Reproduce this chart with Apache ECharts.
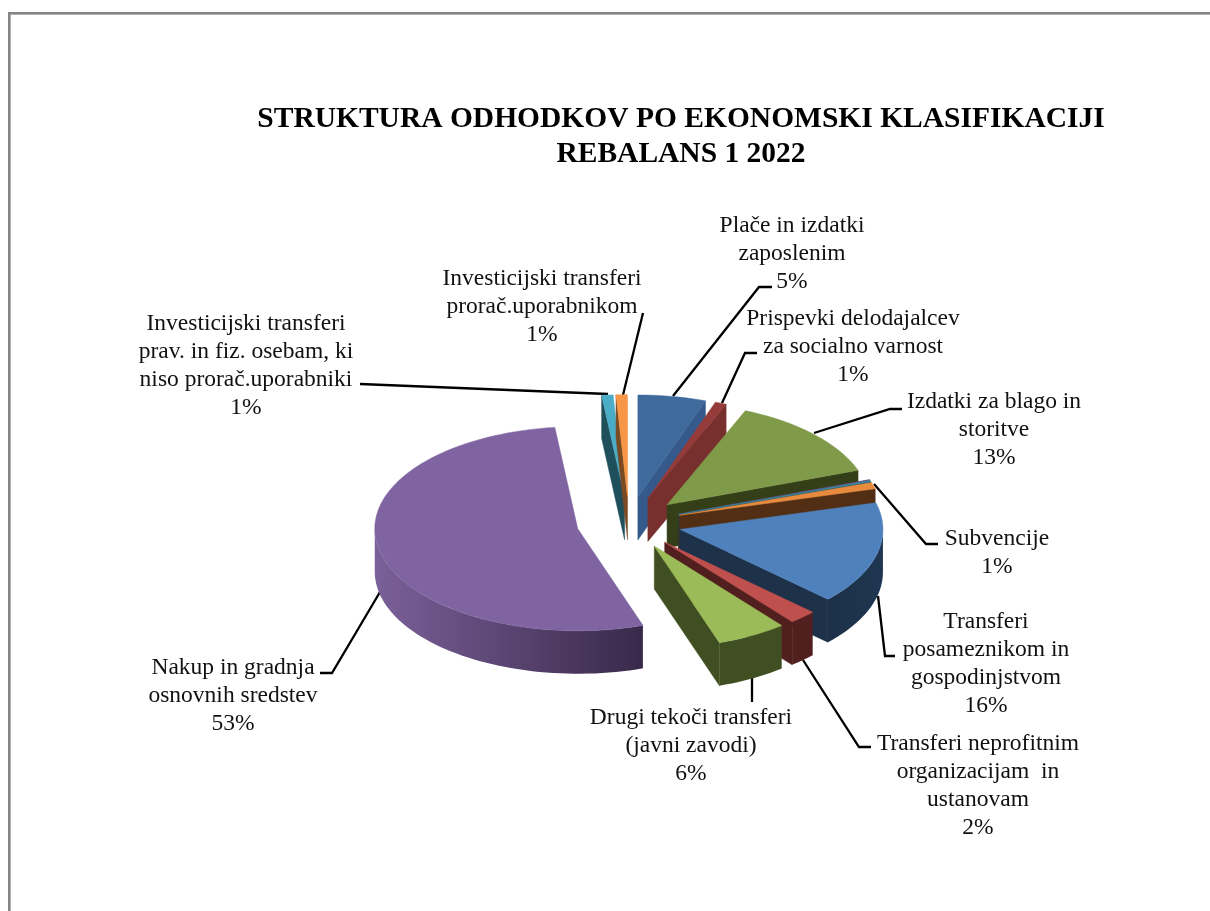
<!DOCTYPE html>
<html>
<head>
<meta charset="utf-8">
<title>Struktura odhodkov</title>
<script src="https://cdn.jsdelivr.net/npm/echarts@6/dist/echarts.min.js"></script>
<style>
  html, body { margin: 0; padding: 0; background: #fff; }
  #chart { width: 1210px; height: 911px; }
</style>
</head>
<body>
<div id="chart"></div>
<script>
// slices clockwise from 12 o'clock; two tiny ones have no label in the original
const categories = [
  "Plače in izdatki\nzaposlenim",
  "Prispevki delodajalcev\nza socialno varnost",
  "Izdatki za blago in\nstoritve",
  "",
  "",
  "Subvencije",
  "Transferi\nposameznikom in\ngospodinjstvom",
  "Transferi neprofitnim\norganizacijam  in\nustanovam",
  "Drugi tekoči transferi\n(javni zavodi)",
  "Nakup in gradnja\nosnovnih sredstev",
  "Investicijski transferi\nprav. in fiz. osebam, ki\nniso prorač.uporabniki",
  "Investicijski transferi\nprorač.uporabnikom"
];
const values = [5.4, 0.9, 13.2, 0.1, 0.2, 1.0, 16.2, 2.2, 5.6, 53.4, 0.9, 0.9];
const percentLabels = ["5%", "1%", "13%", "", "", "1%", "16%", "2%", "6%", "53%", "1%", "1%"];

const topColors = ["#3e6a9c", "#953b39", "#7f9a48", "#664f84", "#3b8da3", "#e98b3f", "#4f81bd", "#c0504d", "#9bbb59", "#8064a2", "#4bacc6", "#f79646"];
const faceColors = ["#34598a", "#77302e", "#343f18", "#2c2238", "#1b4652", "#522f14", "#1d3149", "#511f1d", "#404f21", "#3a2c49", "#204f5c", "#7a4a22"];
const wallLeft = ["#34598a", "#77302e", "#343f18", "#2c2238", "#1b4652", "#522f14", "#1c3048", "#511f1d", "#404f21", "#7b6099", "#204f5c", "#7a4a22"];
const wallRight = ["#34598a", "#77302e", "#343f18", "#2c2238", "#1b4652", "#522f14", "#1f3652", "#511f1d", "#404f21", "#38294a", "#204f5c", "#7a4a22"];

// [text centre x, first line centre y]
const labelPos = [
  [792, 226], [853, 319], [994, 402], null, null, [997, 539],
  [986, 622], [978, 744], [691, 718], [233, 668], [246, 324], [542, 279]
];
// leader lines, pie end first
const leaders = [
  [[673, 396], [759, 287], [772, 287]],
  [[722, 403], [745, 353], [757, 353]],
  [[814, 433], [890, 409], [902, 409]],
  null, null,
  [[874, 484], [926, 544], [938, 544]],
  [[878, 596], [885, 656], [895, 656]],
  [[803, 660], [859, 747], [871, 747]],
  [[752, 678], [752, 702]],
  [[380, 592], [332, 673], [320, 673]],
  [[608, 394], [360, 384]],
  [[623, 395], [643, 313]]
];

const CX = 629, CY = 523, RX = 203, RY = 102, EXPLODE = 52.5, DEPTH = 43;
const total = values.reduce((a, b) => a + b, 0);

// angle in degrees clockwise from top
const starts = [];
values.reduce((sum, v, i) => { starts[i] = sum / total * 360; return sum + v; }, 0);

function rimPoint(apex, deg) {
  const t = deg * Math.PI / 180;
  return [apex[0] + RX * Math.sin(t), apex[1] - RY * Math.cos(t)];
}

function arc(apex, a, b) {
  const pts = [];
  const n = Math.max(2, Math.ceil((b - a) / 2));
  for (let i = 0; i <= n; i++) pts.push(rimPoint(apex, a + (b - a) * i / n));
  return pts;
}

function down(p) {
  return [p[0], p[1] + DEPTH];
}

function renderSlice(params, api) {
  const i = params.dataIndex;
  const a = starts[i];
  const b = a + api.value(0) / total * 360;
  const mid = (a + b) / 2 * Math.PI / 180;
  const apex = [CX + EXPLODE * Math.sin(mid), CY - EXPLODE * RY / RX * Math.cos(mid)];
  const children = [];
  const z2 = Math.round((1 - Math.cos(mid)) * 100);

  function face(deg) {
    const rim = rimPoint(apex, deg);
    children.push({
      type: "polygon",
      shape: { points: [apex, rim, down(rim), down(apex)] },
      style: { fill: faceColors[i], stroke: faceColors[i], lineWidth: 0.5 }
    });
  }
  if (Math.sin(a * Math.PI / 180) < -0.001) face(a);
  if (Math.sin(b * Math.PI / 180) > 0.001) face(b);

  // outer wall, only the front half of the rim shows
  const wa = Math.max(a, 90), wb = Math.min(b, 270);
  if (wb > wa) {
    const top = arc(apex, wa, wb);
    const bottom = top.map(down).reverse();
    children.push({
      type: "polygon",
      shape: { points: top.concat(bottom) },
      style: {
        fill: new echarts.graphic.LinearGradient(0, 0, 1, 0, [
          { offset: 0, color: wallLeft[i] },
          { offset: 1, color: wallRight[i] }
        ])
      }
    });
  }

  children.push({
    type: "polygon",
    shape: { points: [apex].concat(arc(apex, a, b)) },
    style: { fill: topColors[i], stroke: topColors[i], lineWidth: 0.5 }
  });

  return { type: "group", z2: z2, children: children.map(c => Object.assign(c, { z2: z2 })) };
}

function renderLabel(params, api) {
  const i = params.dataIndex;
  if (!labelPos[i]) return null;
  return {
    type: "group",
    children: [
      {
        type: "polyline",
        shape: { points: leaders[i] },
        style: { stroke: "#000", lineWidth: 2.3, fill: null }
      },
      {
        type: "text",
        style: {
          text: categories[i] + "\n" + percentLabels[i],
          x: labelPos[i][0],
          y: labelPos[i][1] - 14,
          fill: "#111",
          font: '23.5px "Liberation Serif"',
          lineHeight: 28,
          align: "center",
          verticalAlign: "top"
        }
      }
    ]
  };
}

const chart = echarts.init(document.getElementById("chart"));
const rows = values.map(v => [v]);

chart.setOption({
  animation: false,
  backgroundColor: "#fff",
  title: {
    text: "STRUKTURA ODHODKOV PO EKONOMSKI KLASIFIKACIJI\nREBALANS 1 2022",
    left: 676,
    top: 97,
    textAlign: "center",
    textStyle: {
      fontFamily: "Liberation Serif",
      fontWeight: "bold",
      fontSize: 29.5,
      lineHeight: 35,
      color: "#000"
    }
  },
  graphic: [
    { type: "rect", shape: { x: 8, y: 12, width: 1202, height: 2 }, style: { fill: "#858585" }, silent: true },
    { type: "rect", shape: { x: 8, y: 14, width: 1202, height: 1 }, style: { fill: "#b0b0b0" }, silent: true },
    { type: "rect", shape: { x: 8, y: 12, width: 2, height: 899 }, style: { fill: "#858585" }, silent: true },
    { type: "rect", shape: { x: 10, y: 14, width: 1, height: 897 }, style: { fill: "#b0b0b0" }, silent: true }
  ],
  series: [
    { type: "custom", coordinateSystem: "none", data: rows, renderItem: renderLabel, silent: true, z: 1 },
    { type: "custom", coordinateSystem: "none", data: rows, renderItem: renderSlice, silent: true, z: 2 }
  ]
});
</script>
</body>
</html>
